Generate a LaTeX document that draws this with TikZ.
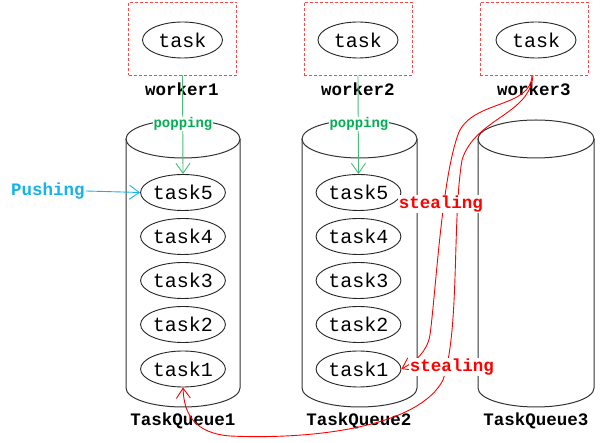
\documentclass[tikz,border=0pt]{standalone}
\usepackage{fontspec}
\setmonofont{Liberation Mono}
\usetikzlibrary{arrows.meta,shapes.geometric}
\definecolor{dred}{RGB}{255,70,70}
\definecolor{sred}{RGB}{255,0,0}
\definecolor{pgreen}{RGB}{0,176,80}
\definecolor{lgreen}{RGB}{70,190,120}
\definecolor{pcyan}{RGB}{20,180,235}
\begin{document}
\begin{tikzpicture}[x=1pt,y=-1pt,
  taskn/.style={draw=black!85, line width=0.9pt, shape=ellipse, minimum width=80pt, minimum height=36pt, inner sep=0pt, font=\ttfamily\fontsize{20}{20}\selectfont},
  wbox/.style={draw=dred, line width=0.9pt, dash pattern=on 3pt off 2pt, minimum width=108pt, minimum height=73pt, inner sep=0pt},
  lbl/.style={font=\ttfamily\bfseries\fontsize{17.5}{17.5}\selectfont, inner sep=1pt},
  cyl/.style={draw=black!80, line width=1pt},
  popline/.style={draw=lgreen, line width=0.9pt, -{Straight Barb[length=10pt,width=14pt]}},
  pushline/.style={draw=pcyan, line width=0.9pt, -{Straight Barb[length=10pt,width=14pt]}},
  steal/.style={draw=sred, line width=0.9pt, -{Straight Barb[length=10pt,width=14pt]}},
  poplbl/.style={font=\ttfamily\bfseries\fontsize{14}{14}\selectfont, text=pgreen, fill=white, inner sep=0.5pt},
  steallbl/.style={lbl, text=sred, fill=white}
]
\fill[white] (0,0) rectangle (600,443);
\useasboundingbox (0,0) rectangle (600,443);

% workers
\node[wbox] (w1) at (182.5,38.5) {};
\node[wbox] (w2) at (358,38.5) {};
\node[wbox] (w3) at (534,38.5) {};
\node[taskn] (w1t) at (182.5,40) {task};
\node[taskn] (w2t) at (358,40) {task};
\node[taskn] (w3t) at (536,40) {task};
\node[lbl] (w1l) at (182,89) {worker1};
\node[lbl] (w2l) at (358,89) {worker2};
\node[lbl] (w3l) at (534,89) {worker3};

% cylinders
\foreach \cx/\rx in {183/57, 359.5/57.5, 536/58}{
  \draw[cyl] (\cx,139) ellipse [x radius=\rx pt, y radius=19pt];
  \draw[cyl] (\cx-\rx,139) -- (\cx-\rx,388) arc[start angle=180, end angle=360, x radius=\rx pt, y radius=19pt] -- (\cx+\rx,139);
}

% tasks in queues
\node[taskn] (q1t5) at (183,192.5) {task5};
\node[taskn] (q1t4) at (183,236.5) {task4};
\node[taskn] (q1t3) at (183,280.5) {task3};
\node[taskn] (q1t2) at (183,324.5) {task2};
\node[taskn] (q1t1) at (183,369) {task1};
\node[taskn] (q2t5) at (358.5,192.5) {task5};
\node[taskn] (q2t4) at (358.5,236.5) {task4};
\node[taskn] (q2t3) at (358.5,280.5) {task3};
\node[taskn] (q2t2) at (358.5,324.5) {task2};
\node[taskn] (q2t1) at (358.5,369) {task1};

\node[lbl] (q1l) at (183,421) {TaskQueue1};
\node[lbl] (q2l) at (359,421) {TaskQueue2};
\node[lbl] (q3l) at (536,421) {TaskQueue3};

% popping
\draw[popline] (w1.south) -- (q1t5.north);
\draw[popline] (w2.south) -- (q2t5.north);
\node[poplbl] (pop1) at (183,124) {popping};
\node[poplbl] (pop2) at (359,124) {popping};

% pushing
\node[lbl, text=pcyan] (push) at (48,191) {Pushing};
\draw[pushline] (push.east) -- (q1t5.west);

% stealing
\draw[steal] ([xshift=-2pt]w3.south) .. controls (531,108) and (474,100) .. (459,132)
  .. controls (442,175) and (436,290) .. (430,335)
  .. controls (427,352) and (415,362) .. (q2t1.east);
\draw[steal] ([xshift=-1pt]w3.south) .. controls (530,115) and (475,118) .. (462,160)
  .. controls (452,220) and (460,330) .. (443,380)
  .. controls (420,425) and (320,440) .. (230,436)
  .. controls (195,433) and (184,415) .. (q1t1.south);
\node[steallbl] (st1) at (441,204) {stealing};
\node[steallbl] (st2) at (452,367) {stealing};
\end{tikzpicture}
\end{document}
